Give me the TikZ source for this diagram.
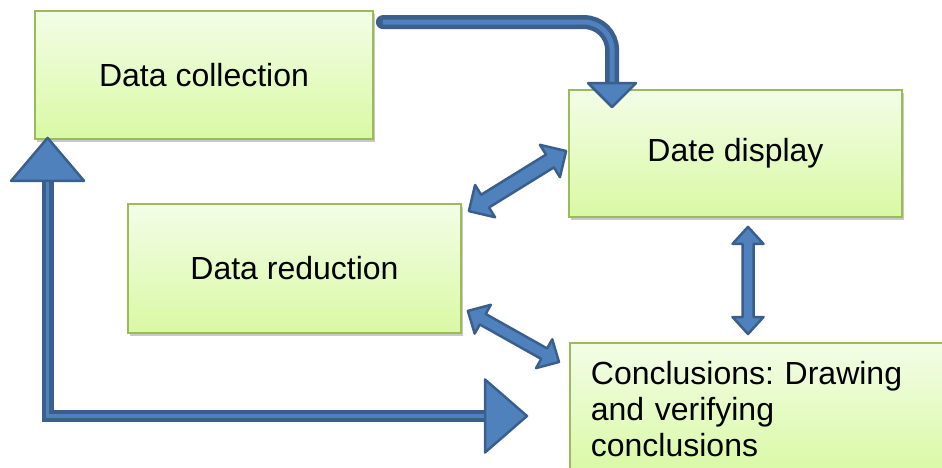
\documentclass[tikz,border=0pt]{standalone}
\usepackage{fontspec}
\setmainfont{Liberation Sans}
\usetikzlibrary{calc,shadows}
\frenchspacing
\definecolor{boxtop}{RGB}{243,253,231}
\definecolor{boxbot}{RGB}{217,249,164}
\definecolor{boxline}{RGB}{155,187,89}
\definecolor{arrdark}{RGB}{58,95,140}
\definecolor{arrfill}{RGB}{79,129,189}
% double block arrow: tip1, tip2, head length, head half width, shaft half width
\newcommand\dblarr[5]{%
  \draw[blockhead]
    ($(#1)!#3pt!(#2)!#4pt!90:(#2)$) -- (#1) --
    ($(#1)!#3pt!(#2)!#4pt!-90:(#2)$) --
    ($(#1)!#3pt!(#2)!#5pt!-90:(#2)$) --
    ($(#2)!#3pt!(#1)!#5pt!90:(#1)$) --
    ($(#2)!#3pt!(#1)!#4pt!90:(#1)$) -- (#2) --
    ($(#2)!#3pt!(#1)!#4pt!-90:(#1)$) --
    ($(#2)!#3pt!(#1)!#5pt!-90:(#1)$) --
    ($(#1)!#3pt!(#2)!#5pt!90:(#2)$) -- cycle;}
\tikzset{
  box/.style={rectangle, draw=boxline, line width=1.8pt,
    top color=boxtop, bottom color=boxbot,
    drop shadow={shadow xshift=1.5pt, shadow yshift=-3pt, opacity=0.3, fill=black!70},
    font=\fontsize{32}{36}\selectfont, align=center, inner sep=0pt},
  blockhead/.style={draw=arrdark, fill=arrfill, line width=2.5pt, line join=round},
  shaftdark/.style={draw=arrdark, line width=#1},
  shaftlight/.style={draw=arrfill, line width=#1},
}
\begin{document}
\begin{tikzpicture}[x=1pt, y=-1pt]
\useasboundingbox (0,0) rectangle (942,468);
\clip (0,0) rectangle (942,468);

% boxes
\node[box, minimum width=338pt, minimum height=128pt] (dc) at (204,75) {Data collection};
\node[box, minimum width=333pt, minimum height=127pt] (dd) at (735.5,153.5) {Date display};
\node[box, minimum width=333pt, minimum height=129pt] (dr) at (294.5,268.5) {Data reduction};
\node[box, anchor=north west, inner xsep=21pt, inner ysep=18pt, text width=340pt, align=left] (cc) at (569,342)
  {Conclusions: Drawing\\and verifying\\conclusions};

% arrow 1: Data collection -> Date display (curved)
\coordinate (a1s) at ($(dc.north east)+(9,12)$);
\coordinate (a1e) at ($(dd.north west)+(44,-6)$);
\coordinate (a1t) at ($(dd.north west)+(44,18)$);
\draw[shaftdark=14pt, line cap=round, rounded corners=28pt] (a1s) -| (a1e);
\draw[shaftlight=5pt, rounded corners=28pt] (a1s) -| (a1e);
\draw[blockhead] ($(a1t)+(-24,-24)$) -- (a1t) -- ($(a1t)+(24,-24)$) -- cycle;

% arrow L: Conclusions -> Data collection and -> Conclusions
\coordinate (lt) at ($(dc.south west)+(13.5,-2)$);
\coordinate (lb) at ($(lt)+(0,43)$);
\coordinate (rt) at ($(cc.north west)+(-42,74)$);
\coordinate (rb) at ($(rt)+(-42,0)$);
\draw[shaftdark=12pt, line join=miter] (lb) |- (rb);
\draw[shaftlight=3.5pt, line join=miter] (lb) |- (rb);
\draw[blockhead] ($(lt)+(-36.5,43)$) -- (lt) -- ($(lt)+(36.5,43)$) -- cycle;
\draw[blockhead] ($(rt)+(-42,-36.5)$) -- (rt) -- ($(rt)+(-42,36.5)$) -- cycle;

% double arrows
\coordinate (da1) at ($(dr.north east)+(7,8)$);
\coordinate (da2) at ($(dd.west)+(-2,-2.5)$);
\dblarr{da1}{da2}{19}{19}{7.5}

\coordinate (db1) at ($(dr.south east)+(6,-23)$);
\coordinate (db2) at ($(cc.north west)+(-10,20)$);
\dblarr{db1}{db2}{17}{16.5}{6}

\coordinate (dc1) at ($(dd.south)+(12.5,9)$);
\coordinate (dc2) at ($(cc.north west)+(179,-8)$);
\dblarr{dc1}{dc2}{17}{15.5}{5.5}
\end{tikzpicture}
\end{document}
